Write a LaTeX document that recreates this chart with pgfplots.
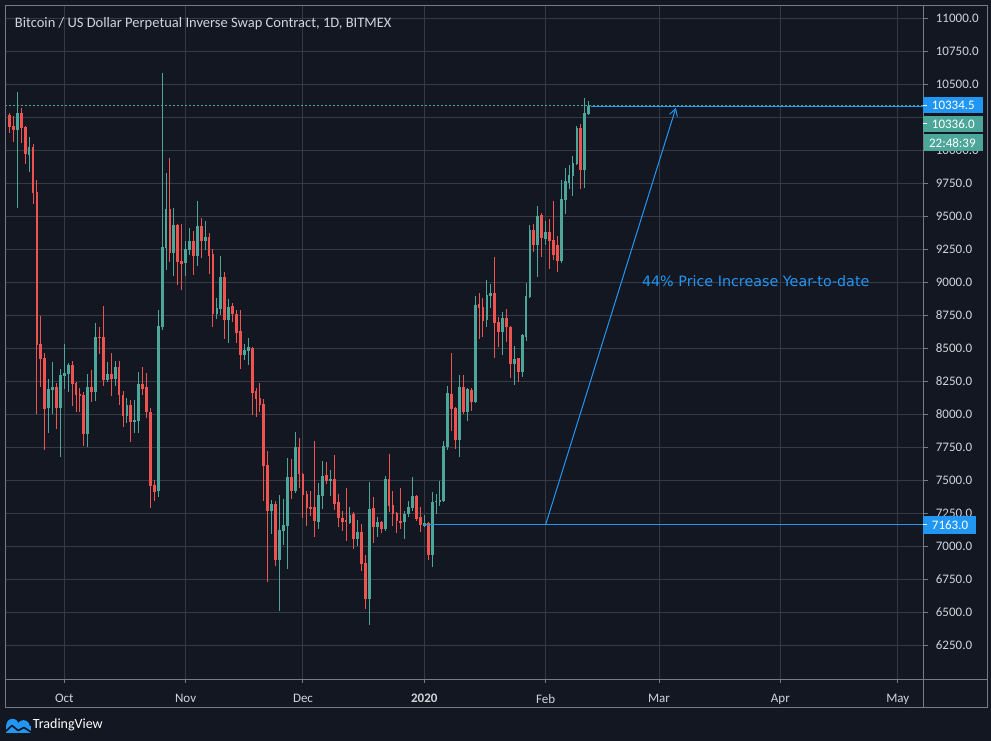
\documentclass[border=0pt]{standalone}
\usepackage{pgfplots}
\pgfplotsset{compat=1.18}
\usepackage{pgfplotstable}
\usepackage{fontspec}
\setmainfont{Carlito}
\newfontfamily\dejavu{DejaVu Sans}
\usetikzlibrary{arrows.meta,backgrounds}
\definecolor{bg}{HTML}{131722}
\definecolor{gridc}{HTML}{363A45}
\definecolor{framec}{HTML}{787B86}
\definecolor{upc}{HTML}{4DA69A}
\definecolor{dnc}{HTML}{EF5350}
\definecolor{tvblue}{HTML}{2196F3}
\definecolor{txt}{HTML}{D1D4DC}
\newcommand\fs[1]{\fontsize{#1}{#1}\selectfont}

% day index: 0 = 1 Oct 2019
\pgfplotstableread{
d o h l c
-12 10157 10442 9566 10283
-9 9965 10101 9838 10025
-4 8051 8268 7861 8192
-3 8184 8397 8005 8207
-1 8051 8343 7679 8298
0 8290 8533 8192 8313
1 8306 8389 8169 8374
6 7853 8306 7755 8207
8 8169 8692 8104 8586
11 8260 8397 8245 8306
13 8268 8404 8215 8359
16 7990 8124 7937 8071
18 7944 8109 7861 7960
19 7952 8321 7861 8230
24 7422 8790 7376 8669
25 8662 10586 8639 9265
26 9258 9828 9093 9556
28 9220 9563 9048 9434
31 9146 9313 9048 9250
32 9245 9412 9207 9313
34 9199 9616 9124 9427
36 9310 9465 9245 9343
39 8760 8881 8722 8806
40 8798 9199 8752 9040
42 8715 8874 8540 8813
46 8449 8533 8412 8487
47 8480 8580 8374 8510
53 7268 7351 7093 7321
55 6897 7389 6510 7124
56 7119 7359 7010 7162
57 7154 7669 6828 7525
59 7419 7866 7404 7753
65 7184 7480 7131 7389
66 7381 7646 7283 7533
68 7495 7578 7381 7510
73 7177 7298 7169 7237
75 7058 7200 7005 7109
78 6604 7487 6407 7283
80 7146 7222 7073 7184
82 7134 7533 7119 7510
87 7187 7270 7058 7247
88 7245 7346 7225 7300
89 7293 7525 7270 7381
92 7157 7240 7149 7177
94 6937 7412 6846 7336
95 7336 7396 7247 7346
96 7338 7497 7308 7351
97 7346 7798 7336 7760
98 7753 8215 7732 8162
101 7808 8298 7679 8207
103 8018 8197 7952 8192
105 8093 8896 8085 8828
108 8715 9018 8662 8904
109 8896 8987 8806 8919
112 8624 8775 8449 8730
115 8381 8518 8222 8419
117 8321 8605 8283 8601
118 8586 8995 8556 8896
119 8889 9434 8881 9396
121 9283 9578 9040 9503
123 9328 9465 9283 9381
127 9162 9775 9146 9631
128 9624 9866 9518 9768
129 9753 9889 9707 9813
130 9806 9957 9654 9904
131 9897 10184 9889 10169
133 9851 10396 9715 10283
134 10275 10374 10270 10336
}\uptab

\pgfplotstableread{
d o h l c
-14 10268 10285 10134 10179
-13 10184 10260 10066 10157
-11 10283 10321 10058 10172
-10 10177 10185 9899 9975
-8 10025 10048 9596 9679
-7 9684 9775 8005 8525
-6 8533 8745 8210 8422
-5 8427 8465 7733 8043
-2 8207 8237 7891 8051
2 8374 8404 8066 8230
3 8237 8245 8020 8149
4 8154 8200 8020 8141
5 8149 8169 7763 7853
7 8207 8336 8096 8169
9 8586 8662 8457 8581
10 8586 8821 8215 8260
12 8306 8465 8141 8268
14 8359 8404 8073 8149
15 8149 8177 7907 7990
17 8071 8109 7793 7944
20 8230 8359 8149 8192
21 8207 8313 7975 8020
22 8020 8051 7293 7460
23 7467 7503 7346 7414
27 9556 9942 9154 9220
29 9434 9440 8980 9154
30 9161 9442 8942 9139
33 9313 9389 9056 9199
35 9427 9487 9184 9313
37 9343 9374 9063 9199
38 9214 9252 8662 8760
41 9040 9078 8571 8715
43 8821 8843 8700 8760
44 8760 8790 8540 8616
45 8631 8793 8343 8452
48 8500 8510 7995 8162
49 8177 8200 7980 8116
50 8124 8237 8018 8071
51 8078 8116 7343 7609
52 7616 7722 6730 7268
54 7321 7343 6851 6897
58 7525 7662 7359 7419
60 7753 7821 7442 7548
61 7548 7555 7215 7389
62 7396 7419 7154 7290
63 7298 7419 7230 7283
64 7298 7798 7071 7192
67 7540 7639 7472 7495
69 7510 7692 7275 7321
70 7336 7396 7146 7215
71 7215 7268 7116 7184
72 7200 7442 7040 7184
74 7245 7260 6980 7056
76 7109 7169 6813 6869
77 6874 6934 6528 6604
79 7290 7374 7028 7149
81 7184 7192 7104 7134
83 7510 7699 7263 7308
84 7316 7422 7157 7247
85 7255 7263 7104 7194
86 7194 7444 7134 7179
90 7381 7390 7194 7210
91 7225 7300 7111 7164
93 7177 7187 6899 6937
99 8154 8465 7876 8043
100 8048 8055 7740 7808
102 8207 8298 8005 8018
104 8184 8199 8028 8093
106 8836 8919 8571 8806
107 8813 8881 8586 8707
110 8919 9192 8427 8692
111 8699 8737 8510 8624
113 8730 8798 8548 8662
114 8662 8669 8275 8381
116 8427 8430 8245 8321
120 9396 9442 9230 9283
122 9510 9525 9192 9336
124 9381 9480 9101 9313
125 9321 9616 9170 9207
126 9283 9351 9081 9162
132 10169 10199 9707 9851
}\dntab

\begin{document}
\begin{tikzpicture}
\begin{axis}[
  scale only axis, width=918.2pt, height=674pt,
  xmin=-15.08, xmax=219.58, ymin=5992.4, ymax=11098.5,
  clip=false,
  axis line style={draw=framec, line width=1pt},
  grid=major, major grid style={draw=gridc, line width=1pt},
  xtick={0,31,61,92,123,152,183,213},
  xticklabels={Oct,Nov,Dec,\textbf{2020},Feb,Mar,Apr,May},
  ytick={6250,6500,...,10000,10500,10750,11000},
  extra y ticks={10250},
  extra y tick labels={},
  extra y tick style={grid=major, tick label style={opacity=0}},
  scaled y ticks=false,
  ytick pos=right, xtick pos=bottom, yticklabel pos=right,
  tick align=outside, major tick length=4pt,
  major tick style={draw=framec, line width=1pt},
  /pgf/number format/assume math mode=true,
  /pgf/number format/fixed,
  /pgf/number format/fixed zerofill,
  /pgf/number format/precision=1,
  /pgf/number format/1000 sep={},
  tick label style={font=\fs{13}, text=txt},
  yticklabel style={anchor=west, inner sep=0pt, xshift=8.2pt},
  xticklabel style={anchor=north, inner sep=0pt, yshift=-10.8pt},
  candle/.style 2 args={draw=none, mark=none, forget plot,
    error bars/.cd, y dir=both, y explicit, error mark=none,
    error bar style={draw=#1, line width=#2}},
]
% current price line
\addplot[upc, line width=1pt, dash pattern=on 2pt off 2pt, forget plot]
  coordinates {(-15.08,10336) (219.58,10336)};
% wicks
\addplot[candle={upc}{1pt}]
  table[x=d, y expr={(\thisrow{h}+\thisrow{l})/2},
        y error expr={(\thisrow{h}-\thisrow{l})/2}] {\uptab};
\addplot[candle={dnc}{1pt}]
  table[x=d, y expr={(\thisrow{h}+\thisrow{l})/2},
        y error expr={(\thisrow{h}-\thisrow{l})/2}] {\dntab};
% bodies
\addplot[candle={upc}{2.8pt}]
  table[x=d, y expr={(\thisrow{o}+\thisrow{c})/2},
        y error expr={max(abs(\thisrow{c}-\thisrow{o})/2,4)}] {\uptab};
\addplot[candle={dnc}{2.8pt}]
  table[x=d, y expr={(\thisrow{o}+\thisrow{c})/2},
        y error expr={max(abs(\thisrow{c}-\thisrow{o})/2,4)}] {\dntab};
% drawings
\addplot[tvblue, line width=1pt, forget plot]
  coordinates {(134.6,10334.5) (219.58,10334.5)};
\addplot[tvblue, line width=1pt, forget plot]
  coordinates {(92,7163) (219.58,7163)};
\addplot[tvblue, line width=1pt, forget plot, -{Straight Barb[length=7pt,width=8pt]}]
  coordinates {(123,7163) (156.3,10322)};
\node[anchor=west, inner sep=0pt, text=tvblue, font=\dejavu\fs{14.3}]
  at (axis cs:147.6,9006) {44\% Price Increase Year-to-date};
\coordinate (O) at (rel axis cs:0,0);
\end{axis}
\begin{scope}[shift={(O)}, xshift=-5.3pt, yshift=-61.7pt, x=1pt, y=1pt]
\begin{scope}[on background layer]
\fill[bg] (0,0) rectangle (991,741);
\end{scope}
% frame
\draw[framec, line width=1pt] (5.3,33.7) rectangle (987.7,735.7);
\draw[framec, line width=1pt] (923.5,61.7) -- (987.7,61.7);
\draw[framec, line width=1pt] (923.5,33.7) -- (923.5,61.7);
% header
\node[anchor=base west, inner sep=0pt, text=txt, font=\fs{14.5}] at (14.7,713.7)
  {Bitcoin / US Dollar Perpetual Inverse Swap Contract, 1D, BITMEX};
% price boxes
\fill[tvblue] (923.3,627.7) rectangle (982.7,643.7);
\draw[white, line width=1pt] (923.3,635.7) -- (927.3,635.7);
\node[anchor=west, inner sep=0pt, text=white, font=\fs{13}] at (931.7,635.7) {10334.5};
\fill[upc] (923.3,609.3) rectangle (982.7,625.3);
\draw[white, line width=1pt] (923.3,617.3) -- (927.3,617.3);
\node[anchor=west, inner sep=0pt, text=white, font=\fs{13}] at (931.7,617.3) {10336.0};
\fill[upc] (924,589.7) rectangle (982.7,607);
\node[anchor=west, inner sep=0pt, text=white, font=\fs{13}] at (928.9,598.3) {22:48:39};
\fill[tvblue] (923.3,207.3) rectangle (976,225);
\draw[white, line width=1pt] (923.3,216.2) -- (927.3,216.2);
\node[anchor=west, inner sep=0pt, text=white, font=\fs{13}] at (931.7,216.2) {7163.0};
% logo
\fill[tvblue] (6,8.3) rectangle (30.7,14.5);
\fill[tvblue] (12.5,16) circle (6.2);
\fill[tvblue] (23.5,14.5) circle (6.3);
\fill[tvblue] (6,8.3) rectangle (12,16);
\draw[bg, line width=1.6pt, line join=round] (5.5,9.5) -- (12,15.5) -- (18,10.5) -- (24,13.5) -- (31.2,8.8);
\node[anchor=west, inner sep=0pt, text=white, font=\fs{14}] at (32.7,16) {TradingView};
\end{scope}
\end{tikzpicture}
\end{document}
